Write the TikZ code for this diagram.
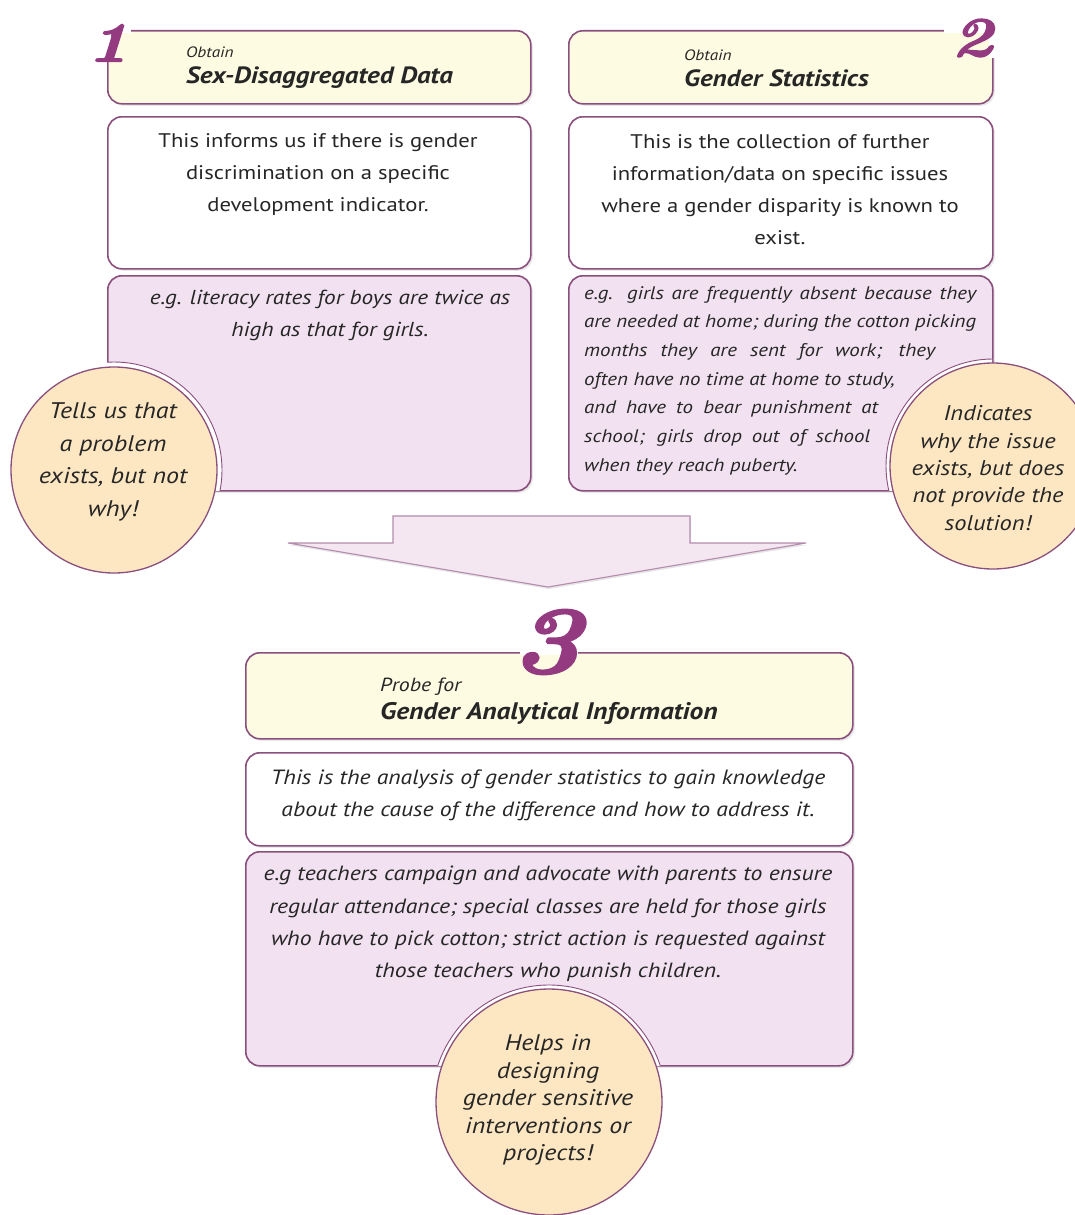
\documentclass[tikz,border=0pt]{standalone}
\usepackage{fontspec}
\usetikzlibrary{shadows}
\newfontfamily\bodyfont[FakeStretch=1.15]{PT Sans}
\newfontfamily\numfont[FakeBold=2.5,FakeStretch=1.25]{lmroman10-bolditalic.otf}
\definecolor{edge}{HTML}{8A4F7D}
\definecolor{numcol}{HTML}{943A80}
\definecolor{cream}{HTML}{FDFBE1}
\definecolor{lav}{HTML}{F2E2F1}
\definecolor{peach}{HTML}{FDE7C2}
\definecolor{arrowfill}{HTML}{F4E7F2}
\definecolor{arrowedge}{HTML}{B58BAE}
\definecolor{ink}{HTML}{262626}
\begin{document}
\begin{tikzpicture}[x=1pt,y=-1pt,
  panel/.style={draw=edge,line width=1.6pt,rounded corners=14pt,anchor=north west,
    inner sep=0pt,drop shadow={opacity=0.18,shadow xshift=2pt,shadow yshift=-2pt}},
  hdr/.style={panel,fill=cream},
  desc/.style={panel,fill=white},
  expl/.style={panel,fill=lav},
  note/.style={circle,draw=edge,line width=1.3pt,fill=peach,inner sep=0pt},
  gap/.style={fill=white,draw=none},
  txt/.style={text=ink,inner sep=0pt,font=\bodyfont\fontsize{19.7}{32}\selectfont,align=center},
  itxt/.style={text=ink,inner sep=0pt,font=\bodyfont\itshape\fontsize{20.6}{32.3}\selectfont,align=center},
  notetxt/.style={text=ink,inner sep=0pt,font=\bodyfont\itshape\fontsize{22.6}{32.7}\selectfont,align=center},
  small/.style={text=ink,inner sep=0pt,anchor=base west,font=\bodyfont\itshape\fontsize{15}{17}\selectfont},
  title/.style={text=ink,inner sep=0pt,anchor=base west,font=\bodyfont\bfseries\itshape\fontsize{23.5}{27}\selectfont},
  num/.style={text=numcol,inner sep=0pt,font=\numfont\fontsize{#1}{#1}\selectfont},
  num/.default=56
]
\useasboundingbox[fill=white] (0,0) rectangle (1074,1215);

% ---- column 1: sex-disaggregated data
\node[hdr,minimum width=423pt,minimum height=73pt] (h1) at (107,30) {};
\node[desc,minimum width=423pt,minimum height=152pt] (d1) at (107,116) {};
\node[expl,minimum width=423pt,minimum height=215pt] (e1) at (107,275) {};
\node[small] (o1) at (186,58) {Obtain};
\node[title] (t1) at (186,83) {Sex-Disaggregated Data};
\node[txt] (dt1) at (318,174) {This informs us if there is gender\\discrimination on a specific\\development indicator.};
\node[itxt,font=\bodyfont\itshape\fontsize{20.2}{32}\selectfont] (et1) at (330,315) {e.g. literacy rates for boys are twice as\\high as that for girls.};
% break the panel border where the step number sits
\fill[gap] (98,27) rectangle (131,33.5);
\fill[gap] (103.5,27) rectangle (110.5,60);
\node[num=56,anchor=center] (n1) at (108,43) {1};

% ---- column 2: gender statistics
\node[hdr,minimum width=424pt,minimum height=73pt] (h2) at (568,30) {};
\node[desc,minimum width=424pt,minimum height=152pt] (d2) at (568,116) {};
\node[expl,minimum width=424pt,minimum height=215pt] (e2) at (568,275) {};
\node[small] (o2) at (684,60) {Obtain};
\node[title] (t2) at (684,86) {Gender Statistics};
\node[txt] (dt2) at (780,190) {This is the collection of further\\information/data on specific issues\\where a gender disparity is known to\\exist.};
\node[text=ink,inner sep=0pt,anchor=north west,align=left,
  font=\bodyfont\itshape\fontsize{18.2}{28.7}\selectfont] (et2) at (584,286)
  {\makebox[392pt][s]{e.g. girls are frequently absent because they}\\
   \makebox[392pt][s]{are needed at home; during the cotton picking}\\
   \makebox[351pt][s]{months they are sent for work; they}\\
   often have no time at home to study,\\
   \makebox[294pt][s]{and have to bear punishment at}\\
   \makebox[286pt][s]{school; girls drop out of school}\\
   when they reach puberty.};
\fill[gap] (944,27) rectangle (996,33.5);
\fill[gap] (988.5,27) rectangle (995.5,58);
\node[num=56,anchor=center] (n2) at (972,38) {2};

% ---- side notes with a white ring where they sit on a panel
\begin{scope}
  \clip (107,275) rectangle (530,490);
  \draw[edge,line width=0.9pt,fill=white] (114,470) circle (108pt);
\end{scope}
\node[note,minimum size=206pt] (c1) at (114,470) {};
\node[notetxt] (ct1) at (113,462) {Tells us that\\a problem\\exists, but not\\why!};
\begin{scope}
  \clip (568,275) rectangle (992,490);
  \draw[edge,line width=0.9pt,fill=white] (993,466) circle (107pt);
\end{scope}
\node[note,minimum size=206pt] (c2) at (993,466) {};
\node[notetxt,font=\bodyfont\itshape\fontsize{21.3}{27.3}\selectfont] (ct2) at (988,468)
  {Indicates\\why the issue\\exists, but does\\not provide the\\solution!};

% ---- big downward arrow
\filldraw[fill=arrowfill,draw=arrowedge,line width=1.1pt,
  drop shadow={opacity=0.2,shadow xshift=1pt,shadow yshift=-2pt}]
  (393,516) -- (690,516) -- (690,543) -- (806,543) -- (548,587)
  -- (288,543) -- (393,543) -- cycle;

% ---- step 3: gender analytical information
\node[hdr,minimum width=607pt,minimum height=86pt] (h3) at (245,652) {};
\node[desc,minimum width=607pt,minimum height=93pt] (d3) at (245,752) {};
\node[expl,minimum width=607pt,minimum height=214pt] (e3) at (245,851) {};
\node[small,font=\bodyfont\itshape\fontsize{19}{21}\selectfont] (o3) at (380,691) {Probe for};
\node[title,font=\bodyfont\bfseries\itshape\fontsize{23.9}{27}\selectfont] (t3) at (380,719) {Gender Analytical Information};
\node[itxt] (dt3) at (548,795) {This is the analysis of gender statistics to gain knowledge\\about the cause of the difference and how to address it.};
\node[itxt] (et3) at (548,924) {e.g teachers campaign and advocate with parents to ensure\\regular attendance; special classes are held for those girls\\who have to pick cotton; strict action is requested against\\those teachers who punish children.};
\fill[gap] (520,648.5) rectangle (578,655);
\node[num=95,anchor=center] (n3) at (546,642) {3};

\begin{scope}
  \clip (245,851) rectangle (852,1065);
  \draw[edge,line width=0.9pt,fill=white] (549,1102) circle (117pt);
\end{scope}
\node[note,minimum size=226pt] (c3) at (549,1102) {};
\node[notetxt,font=\bodyfont\itshape\fontsize{22.6}{27.5}\selectfont] (ct3) at (548,1100)
  {Helps in\\designing\\gender sensitive\\interventions or\\projects!};
\end{tikzpicture}
\end{document}
